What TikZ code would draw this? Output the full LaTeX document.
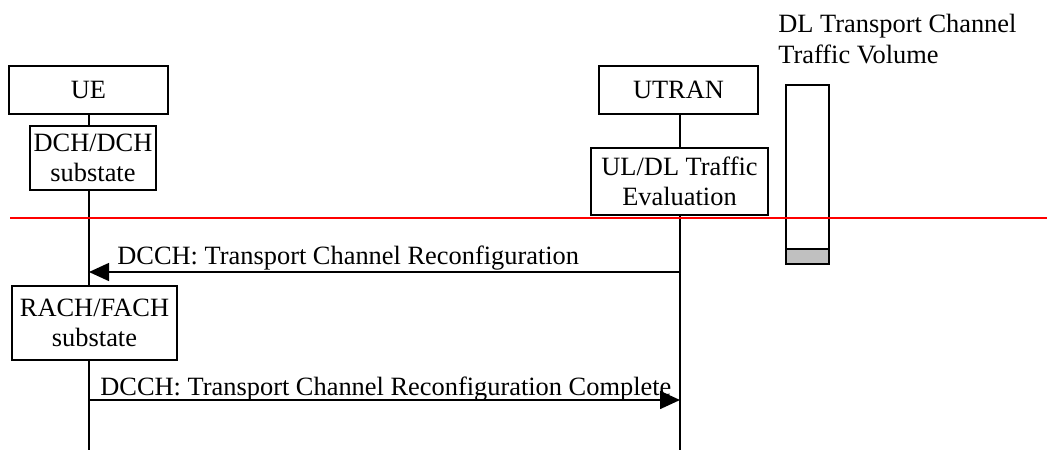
\documentclass[tikz,border=0pt]{standalone}
\usepackage{fontspec}
\setmainfont{Liberation Serif}
\usepackage{xcolor}
\usetikzlibrary{arrows.meta}
\definecolor{BarGray}{HTML}{C0C0C0}
\definecolor{CutRed}{HTML}{FF0000}

\begin{document}
\begin{tikzpicture}[x=0.5pt,y=-0.5pt,
  entity/.style={draw,line width=1pt,minimum width=79.5pt,minimum height=24pt,inner sep=0pt,font=\fontsize{13.2}{15.3}\selectfont},
  statebox/.style={draw,line width=1pt,align=center,inner sep=0pt,font=\fontsize{13.2}{15.3}\selectfont},
  lbl/.style={inner sep=0pt,font=\fontsize{13.2}{15.3}\selectfont},
  life/.style={line width=0.75pt},
  msg/.style={-{Triangle[length=10pt,width=9pt]},line width=0.75pt}
]
\useasboundingbox (0,0) rectangle (1047,450);

\node[entity] (ue) at (88.5,90) {UE};
\node[entity] (utran) at (678.5,90) {UTRAN};
\node[statebox,minimum width=63pt,minimum height=32pt] (dchstate) at (93,158) {DCH/DCH\\substate};
\node[statebox,minimum width=88.5pt,minimum height=33.5pt] (evaluation) at (679.5,181.5) {UL/DL Traffic\\Evaluation};
\node[statebox,minimum width=82.5pt,minimum height=37pt] (fachstate) at (94.5,323) {RACH/FACH\\substate};

% traffic volume bar
\node[lbl,align=left,anchor=north west] (volume) at (778,14) {DL Transport Channel\\Traffic Volume};
\draw[line width=1pt] (786,85) rectangle (829,264);
\draw[line width=1pt,fill=BarGray] (786,249) rectangle (829,264);

\coordinate (ueend) at (89,450);
\coordinate (utranend) at (680,450);
\coordinate (ue1) at (89,272);
\coordinate (utran1) at (680,272);
\coordinate (ue2) at (89,400);
\coordinate (utran2) at (680,400);

\draw[life] (ue.south -| ueend) -- (dchstate.north -| ueend);
\draw[life] (dchstate.south -| ueend) -- (fachstate.north -| ueend);
\draw[life] (fachstate.south -| ueend) -- (ueend);
\draw[life] (utran.south -| utranend) -- (evaluation.north -| utranend);
\draw[life] (evaluation.south -| utranend) -- (utranend);

\draw[CutRed,line width=0.75pt] (10,218) -- (1047,218);

\draw[msg] (utran1) -- (ue1);
\node[lbl,anchor=base west] (reconf) at (117,264) {DCCH: Transport Channel Reconfiguration};
\draw[msg] (ue2) -- (utran2);
\node[lbl,anchor=base west] (complete) at (100,395) {DCCH: Transport Channel Reconfiguration Complete};
\end{tikzpicture}
\end{document}
